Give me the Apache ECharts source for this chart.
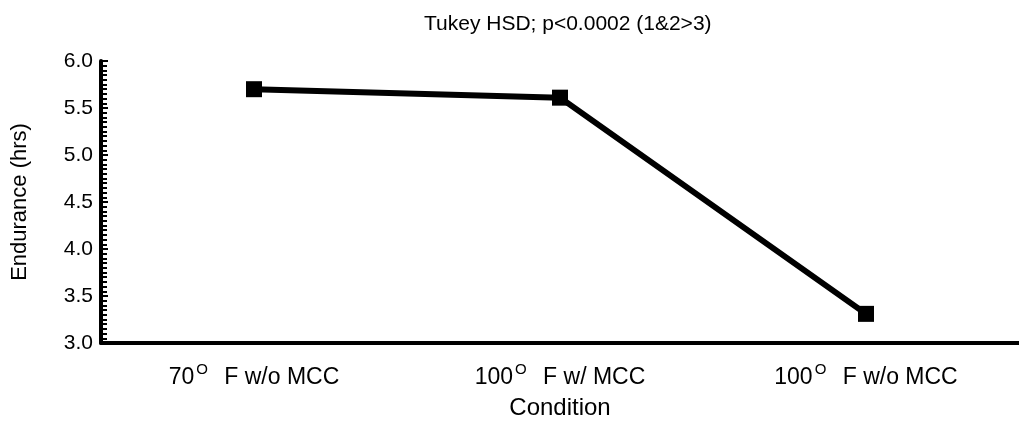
<!DOCTYPE html>
<html>
<head>
<meta charset="utf-8">
<script src="https://cdn.jsdelivr.net/npm/echarts@6/dist/echarts.min.js"></script>
<style>
  html, body { margin: 0; padding: 0; background: #fff; }
  #chart { width: 1019px; height: 428px; }
</style>
</head>
<body>
<div id="chart"></div>
<script>
// data
const conditions = ['70° F w/o MCC', '100° F w/ MCC', '100° F w/o MCC'];
const endurance = [5.70, 5.61, 3.31];
const titleText = 'Tukey HSD; p<0.0002 (1&2>3)';

const chart = echarts.init(document.getElementById('chart'));

const option = {
  animation: false,
  backgroundColor: '#fff',
  title: {
    text: titleText,
    left: 419,
    top: 9,
    textStyle: { fontFamily: 'Liberation Sans', fontSize: 21, fontWeight: 'normal', color: '#000' }
  },
  grid: { left: 101, top: 61, bottom: 85, width: 924 },
  xAxis: {
    type: 'category',
    data: conditions,
    boundaryGap: true,
    name: 'Condition',
    nameLocation: 'middle',
    nameGap: 53,
    nameTextStyle: { fontFamily: 'Liberation Sans', fontSize: 24, color: '#000' },
    axisLine: { lineStyle: { color: '#000', width: 4 } },
    axisTick: { alignWithLabel: true, inside: true, length: 6, lineStyle: { color: '#000', width: 3 } },
    axisLabel: {
      margin: 19,
      color: '#000',
      fontFamily: 'Liberation Sans',
      fontSize: 23,
      formatter: v => v.replace('°', '{s|O}'),
      rich: {
        s: { fontSize: 15, fontFamily: 'Liberation Sans', padding: [0, 10, 17, 2], color: '#000' }
      }
    },
    splitLine: { show: false }
  },
  yAxis: {
    type: 'value',
    min: 3,
    max: 6,
    interval: 0.5,
    name: 'Endurance (hrs)',
    nameLocation: 'middle',
    nameGap: 70,
    nameTextStyle: { fontFamily: 'Liberation Sans', fontSize: 22, color: '#000' },
    axisLine: { show: true, lineStyle: { color: '#000', width: 4 } },
    axisTick: { show: true, inside: true, length: 7, lineStyle: { color: '#000', width: 2 } },
    minorTick: { show: true, splitNumber: 10, length: 6, lineStyle: { color: '#000', width: 2 } },
    axisLabel: {
      margin: 8,
      color: '#000',
      fontFamily: 'Liberation Sans',
      fontSize: 21,
      formatter: v => v.toFixed(1)
    },
    splitLine: { show: false }
  },
  series: [{
    type: 'line',
    data: endurance,
    symbol: 'rect',
    symbolSize: 16,
    lineStyle: { color: '#000', width: 6 },
    itemStyle: { color: '#000' }
  }]
};

chart.setOption(option);
</script>
</body>
</html>
